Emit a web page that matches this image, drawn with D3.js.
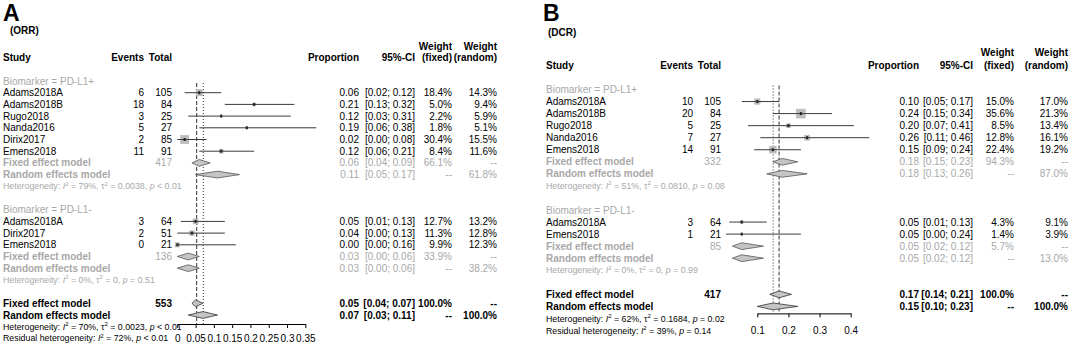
<!DOCTYPE html>
<html>
<head>
<meta charset="utf-8">
<script src="https://cdn.jsdelivr.net/npm/d3@7/dist/d3.min.js"></script>
<style>
  body { margin: 0; background: #fff; }
  svg { display: block; font-family: "Liberation Sans", Arial, Helvetica, sans-serif; }
</style>
</head>
<body>
<svg id="chart" width="1072" height="346"></svg>
<script>
// ---- panel A (ORR) ----
const aStudy   = ["Adams2018A", "Adams2018B", "Rugo2018", "Nanda2016", "Dirix2017", "Emens2018", "Adams2018A", "Dirix2017", "Emens2018"];
const aGroup   = ["PD-L1+", "PD-L1+", "PD-L1+", "PD-L1+", "PD-L1+", "PD-L1+", "PD-L1-", "PD-L1-", "PD-L1-"];
const aEvents  = [6, 18, 3, 5, 2, 11, 3, 2, 0];
const aTotal   = [105, 84, 25, 27, 85, 91, 64, 51, 21];
const aProp    = [0.06, 0.21, 0.12, 0.19, 0.02, 0.12, 0.05, 0.04, 0.00];
const aLower   = [0.02, 0.13, 0.03, 0.06, 0.00, 0.06, 0.01, 0.00, 0.00];
const aUpper   = [0.12, 0.32, 0.31, 0.38, 0.08, 0.21, 0.13, 0.13, 0.16];
const aWFixed  = [18.4, 5.0, 2.2, 1.8, 30.4, 8.4, 12.7, 11.3, 9.9];
const aWRandom = [14.3, 9.4, 5.9, 5.1, 15.5, 11.6, 13.2, 12.8, 12.3];

const aSubgroups  = ["PD-L1+", "PD-L1-"];
const aSubTotal   = [417, 136];
const aSubFixed   = [[0.06, 0.04, 0.09], [0.03, 0.00, 0.06]];
const aSubRandom  = [[0.11, 0.05, 0.17], [0.03, 0.00, 0.06]];
const aSubWFixed  = [66.1, 33.9];
const aSubWRandom = [61.8, 38.2];
const aSubI2      = ["79%", "0%"];
const aSubTau2    = ["0.0038", "0"];
const aSubP       = ["< 0.01", "= 0.51"];

const aAllTotal  = 553;
const aAllFixed  = [0.05, 0.04, 0.07];
const aAllRandom = [0.07, 0.03, 0.11];
const aHet       = ["70%", "0.0023", "< 0.01"];
const aResid     = ["72%", "< 0.01"];
const aLines     = [0.053, 0.071];   // fixed (dashed), random (dotted)
const aTicks     = [0, 0.05, 0.1, 0.15, 0.2, 0.25, 0.3, 0.35];

// ---- panel B (DCR) ----
const bStudy   = ["Adams2018A", "Adams2018B", "Rugo2018", "Nanda2016", "Emens2018", "Adams2018A", "Emens2018"];
const bGroup   = ["PD-L1+", "PD-L1+", "PD-L1+", "PD-L1+", "PD-L1+", "PD-L1-", "PD-L1-"];
const bEvents  = [10, 20, 5, 7, 14, 3, 1];
const bTotal   = [105, 84, 25, 27, 91, 64, 21];
const bProp    = [0.10, 0.24, 0.20, 0.26, 0.15, 0.05, 0.05];
const bLower   = [0.05, 0.15, 0.07, 0.11, 0.09, 0.01, 0.00];
const bUpper   = [0.17, 0.34, 0.41, 0.46, 0.24, 0.13, 0.24];
const bWFixed  = [15.0, 35.6, 8.5, 12.8, 22.4, 4.3, 1.4];
const bWRandom = [17.0, 21.3, 13.4, 16.1, 19.2, 9.1, 3.9];

const bSubgroups  = ["PD-L1+", "PD-L1-"];
const bSubTotal   = [332, 85];
const bSubFixed   = [[0.18, 0.15, 0.23], [0.05, 0.02, 0.12]];
const bSubRandom  = [[0.18, 0.13, 0.26], [0.05, 0.02, 0.12]];
const bSubWFixed  = [94.3, 5.7];
const bSubWRandom = [87.0, 13.0];
const bSubI2      = ["51%", "0%"];
const bSubTau2    = ["0.0810", "0"];
const bSubP       = ["= 0.08", "= 0.99"];

const bAllTotal  = 417;
const bAllFixed  = [0.17, 0.14, 0.21];
const bAllRandom = [0.15, 0.10, 0.23];
const bHet       = ["62%", "0.1684", "= 0.02"];
const bResid     = ["39%", "= 0.14"];
const bLines     = [0.17, 0.151];
const bTicks     = [0.1, 0.2, 0.3, 0.4];

const GRAY = "#a8a8a8";
const FS = 10, FS_HET = 8.8;
const svg = d3.select("#chart");
const f2 = d3.format(".2f");
const f1 = d3.format(".1f");

function text(g, x, cy, s, o) {
  o = o || {};
  const fs = o.fs || FS;
  return g.append("text")
    .attr("x", x)
    .attr("y", cy + 0.35 * fs)
    .attr("font-size", fs)
    .attr("font-weight", o.bold ? "bold" : null)
    .attr("text-anchor", o.anchor || "start")
    .attr("fill", o.fill || "#000")
    .text(s);
}

// heterogeneity line with italic I / p and superscripts
function hetText(g, x, cy, parts, fill) {
  const t = g.append("text")
    .attr("x", x)
    .attr("y", cy + 0.35 * FS_HET)
    .attr("font-size", FS_HET)
    .attr("fill", fill);
  let raised = false;
  parts.forEach(function (p) {
    const ts = t.append("tspan").text(p[0]);
    if (p[1] === "sup") {
      ts.attr("font-size", 6).attr("dy", -3.5);
      raised = true;
    } else {
      if (raised) { ts.attr("dy", 3.5); raised = false; }
      if (p[1] === "i") ts.attr("font-style", "italic");
    }
  });
}

function hetParts(i2, tau2, p) {
  return [["Heterogeneity: ", ""], ["I", "i"], ["2", "sup"], [" = " + i2 + ", ", ""],
          ["\u03c4", ""], ["2", "sup"], [" = " + tau2 + ", ", ""], ["p", "i"], [" " + p, ""]];
}

function residParts(i2, p) {
  return [["Residual heterogeneity: ", ""], ["I", "i"], ["2", "sup"], [" = " + i2 + ", ", ""],
          ["p", "i"], [" " + p, ""]];
}

function ciText(v) { return "[" + f2(v[1]) + "; " + f2(v[2]) + "]"; }

function drawPanel(p) {
  const d = p.data;
  const g = svg.append("g");
  const x = d3.scaleLinear().domain(p.domain).range(p.range);
  const y = function (r) { return p.rowTop + r * p.rowStep; };
  const side = d3.scaleSqrt().domain([0, 100]).range([0, 16]);

  // rows
  const rows = [];
  let r = 0;
  d.subgroups.forEach(function (sg, gi) {
    rows.push({ kind: "group", r: r++, gi: gi });
    d.group.forEach(function (gr, i) {
      if (gr === sg) rows.push({ kind: "study", r: r++, i: i });
    });
    rows.push({ kind: "subFixed", r: r++, gi: gi });
    rows.push({ kind: "subRandom", r: r++, gi: gi });
    rows.push({ kind: "subHet", r: r++, gi: gi });
    r++;
  });
  const rFixed = r++, rRandom = r++, rHet = r++, rResid = r++;
  const axisY = y(rRandom) + p.axisOffset;

  // title
  g.append("text").attr("x", p.letterX).attr("y", 21).attr("font-size", 23)
    .attr("font-weight", "bold").text(p.letter);
  text(g, p.subX, p.subY, p.sub, { bold: true });

  // header
  const hy = y(-2);
  text(g, p.col.study, hy, "Study", { bold: true });
  text(g, p.col.events, hy, "Events", { bold: true, anchor: "end" });
  text(g, p.col.total, hy, "Total", { bold: true, anchor: "end" });
  text(g, p.col.prop, hy, "Proportion", { bold: true, anchor: "end" });
  text(g, p.col.ci, hy, "95%-CI", { bold: true, anchor: "end" });
  text(g, p.col.wf, hy - p.weightGap, "Weight", { bold: true, anchor: "end" });
  text(g, p.col.wf, hy, "(fixed)", { bold: true, anchor: "end" });
  text(g, p.col.wr, hy - p.weightGap, "Weight", { bold: true, anchor: "end" });
  text(g, p.col.wr, hy, "(random)", { bold: true, anchor: "end" });

  // reference lines
  const top = y(0) + p.lineTop;
  g.append("line").attr("x1", x(d.lines[0])).attr("x2", x(d.lines[0]))
    .attr("y1", top).attr("y2", axisY)
    .attr("stroke", "#333").attr("stroke-dasharray", "4,2");
  g.append("line").attr("x1", x(d.lines[1])).attr("x2", x(d.lines[1]))
    .attr("y1", top).attr("y2", axisY)
    .attr("stroke", "#333").attr("stroke-dasharray", "1,2");

  function diamond(v, cy, stroke) {
    const h = 3.4;
    g.append("polygon")
      .attr("points", [[x(v[1]), cy], [x(v[0]), cy - h], [x(v[2]), cy], [x(v[0]), cy + h]].join(" "))
      .attr("fill", "#c4c4c4").attr("stroke", stroke).attr("stroke-width", 0.8);
  }

  rows.forEach(function (row) {
    const cy = y(row.r);
    if (row.kind === "group") {
      text(g, p.col.study, cy, "Biomarker = " + d.subgroups[row.gi], { fill: GRAY });
    } else if (row.kind === "study") {
      const i = row.i;
      text(g, p.col.study, cy, d.study[i]);
      text(g, p.col.events, cy, d.events[i], { anchor: "end" });
      text(g, p.col.total, cy, d.total[i], { anchor: "end" });
      text(g, p.col.prop, cy, f2(d.prop[i]), { anchor: "end" });
      text(g, p.col.ci, cy, ciText([d.prop[i], d.lower[i], d.upper[i]]), { anchor: "end" });
      text(g, p.col.wf, cy, f1(d.wFixed[i]) + "%", { anchor: "end" });
      text(g, p.col.wr, cy, f1(d.wRandom[i]) + "%", { anchor: "end" });
      const s = side(d.wFixed[i]);
      g.append("rect").attr("x", x(d.prop[i]) - s / 2).attr("y", cy - s / 2)
        .attr("width", s).attr("height", s).attr("fill", "#bdbdbd");
      g.append("line").attr("x1", x(d.lower[i])).attr("x2", x(d.upper[i]))
        .attr("y1", cy).attr("y2", cy).attr("stroke", "#3a3a3a");
      g.append("rect").attr("x", x(d.prop[i]) - 1).attr("y", cy - 1.5)
        .attr("width", 2).attr("height", 3).attr("fill", "#222");
    } else if (row.kind === "subFixed") {
      const v = d.subFixed[row.gi];
      text(g, p.col.study, cy, "Fixed effect model", { bold: true, fill: GRAY });
      text(g, p.col.total, cy, d.subTotal[row.gi], { anchor: "end", fill: GRAY });
      text(g, p.col.prop, cy, f2(v[0]), { anchor: "end", fill: GRAY });
      text(g, p.col.ci, cy, ciText(v), { anchor: "end", fill: GRAY });
      text(g, p.col.wf, cy, f1(d.subWFixed[row.gi]) + "%", { anchor: "end", fill: GRAY });
      text(g, p.col.wr, cy, "--", { anchor: "end", fill: GRAY });
      diamond(v, cy, "#555");
    } else if (row.kind === "subRandom") {
      const v = d.subRandom[row.gi];
      text(g, p.col.study, cy, "Random effects model", { bold: true, fill: GRAY });
      text(g, p.col.prop, cy, f2(v[0]), { anchor: "end", fill: GRAY });
      text(g, p.col.ci, cy, ciText(v), { anchor: "end", fill: GRAY });
      text(g, p.col.wf, cy, "--", { anchor: "end", fill: GRAY });
      text(g, p.col.wr, cy, f1(d.subWRandom[row.gi]) + "%", { anchor: "end", fill: GRAY });
      diamond(v, cy, "#555");
    } else if (row.kind === "subHet") {
      hetText(g, p.col.study, cy, hetParts(d.subI2[row.gi], d.subTau2[row.gi], d.subP[row.gi]), GRAY);
    }
  });

  // overall
  let cy = y(rFixed);
  text(g, p.col.study, cy, "Fixed effect model", { bold: true });
  text(g, p.col.total, cy, d.allTotal, { bold: true, anchor: "end" });
  text(g, p.col.prop, cy, f2(d.allFixed[0]), { bold: true, anchor: "end" });
  text(g, p.col.ci, cy, ciText(d.allFixed), { bold: true, anchor: "end" });
  text(g, p.col.wf, cy, "100.0%", { bold: true, anchor: "end" });
  text(g, p.col.wr, cy, "--", { bold: true, anchor: "end" });
  diamond(d.allFixed, cy, "#333");

  cy = y(rRandom);
  text(g, p.col.study, cy, "Random effects model", { bold: true });
  text(g, p.col.prop, cy, f2(d.allRandom[0]), { bold: true, anchor: "end" });
  text(g, p.col.ci, cy, ciText(d.allRandom), { bold: true, anchor: "end" });
  text(g, p.col.wf, cy, "--", { bold: true, anchor: "end" });
  text(g, p.col.wr, cy, "100.0%", { bold: true, anchor: "end" });
  diamond(d.allRandom, cy, "#333");

  hetText(g, p.col.study, y(rHet), hetParts(d.het[0], d.het[1], d.het[2]), "#000");
  hetText(g, p.col.study, y(rResid), residParts(d.resid[0], d.resid[1]), "#000");

  // axis
  const ax = g.append("g").attr("transform", "translate(0," + axisY + ")")
    .call(d3.axisBottom(x).tickValues(p.ticks).tickSize(4).tickSizeOuter(0)
      .tickFormat(function (v) { return String(+v.toFixed(2)); }));
  ax.select(".domain").attr("stroke", "#000");
  ax.selectAll(".tick line").attr("stroke", "#000");
  ax.selectAll(".tick text")
    .attr("font-family", null).attr("font-size", FS).attr("fill", "#000")
    .attr("y", y(rResid) - axisY + 0.35 * FS).attr("dy", null);
}

drawPanel({
  letter: "A", sub: "(ORR)", letterX: 3, subX: 10, subY: 30,
  rowTop: 81, rowStep: 11.7, weightGap: 11, lineTop: 2, axisOffset: 9,
  col: { study: 3, events: 144, total: 172, prop: 359, ci: 415, wf: 452, wr: 497 },
  domain: [0, 0.35], range: [177.3, 305.3], ticks: aTicks,
  data: {
    study: aStudy, group: aGroup, events: aEvents, total: aTotal, prop: aProp,
    lower: aLower, upper: aUpper, wFixed: aWFixed, wRandom: aWRandom,
    subgroups: aSubgroups, subTotal: aSubTotal, subFixed: aSubFixed, subRandom: aSubRandom,
    subWFixed: aSubWFixed, subWRandom: aSubWRandom, subI2: aSubI2, subTau2: aSubTau2, subP: aSubP,
    allTotal: aAllTotal, allFixed: aAllFixed, allRandom: aAllRandom, het: aHet, resid: aResid,
    lines: aLines
  }
});

drawPanel({
  letter: "B", sub: "(DCR)", letterX: 543, subX: 548, subY: 32,
  rowTop: 89.5, rowStep: 12.05, weightGap: 13, lineTop: -4, axisOffset: 7,
  col: { study: 546, events: 693, total: 721, prop: 919, ci: 973, wf: 1014, wr: 1068 },
  domain: [0.1, 0.4], range: [757.3, 850.7], ticks: bTicks,
  data: {
    study: bStudy, group: bGroup, events: bEvents, total: bTotal, prop: bProp,
    lower: bLower, upper: bUpper, wFixed: bWFixed, wRandom: bWRandom,
    subgroups: bSubgroups, subTotal: bSubTotal, subFixed: bSubFixed, subRandom: bSubRandom,
    subWFixed: bSubWFixed, subWRandom: bSubWRandom, subI2: bSubI2, subTau2: bSubTau2, subP: bSubP,
    allTotal: bAllTotal, allFixed: bAllFixed, allRandom: bAllRandom, het: bHet, resid: bResid,
    lines: bLines
  }
});
</script>
</body>
</html>
